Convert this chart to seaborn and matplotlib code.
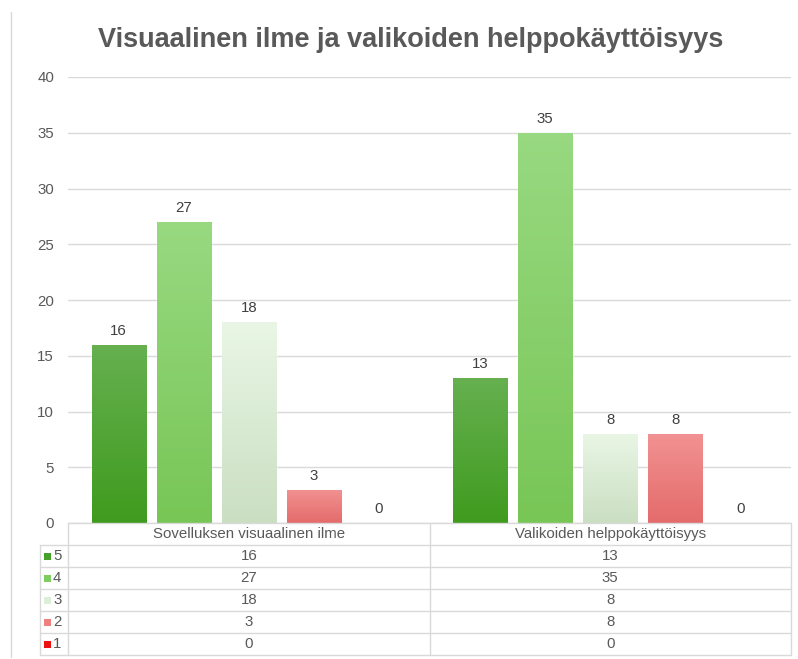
import numpy as np
import pandas as pd
import matplotlib
matplotlib.use('Agg')
import matplotlib.pyplot as plt
import seaborn as sns
from matplotlib.colors import LinearSegmentedColormap
from matplotlib.lines import Line2D
from matplotlib.patches import Rectangle
import matplotlib.patheffects as pe

# Data
categories = ['Sovelluksen visuaalinen ilme', 'Valikoiden helppokäyttöisyys']
ratings = ['5', '4', '3', '2', '1']
visual = [16, 27, 18, 3, 0]
menus = [13, 35, 8, 8, 0]

# colours: solid (legend) and gradient (top, bottom) per rating
solid = {'5': '#46a12a', '4': '#7fcc60', '3': '#dcefd6', '2': '#ee8080', '1': '#ee1111'}
grad = {'5': ('#66b050', '#3f9b1e'), '4': ('#98d981', '#78c656'),
        '3': ('#e9f6e5', '#cadfc2'), '2': ('#f29292', '#e46b6b'),
        '1': ('#ff3030', '#e00000')}

df = pd.DataFrame({'kategoria': np.repeat(categories, len(ratings)),
                   'arvosana': ratings * len(categories),
                   'maara': visual + menus})

sns.set_style('white')
plt.rcParams['font.family'] = ['Liberation Sans', 'DejaVu Sans']
fs = 10.8

W, H = 798, 659
fig = plt.figure(figsize=(W / 100, H / 100), dpi=100)
x0, x1, y0, y40 = 68, 791, 523, 77
ax = fig.add_axes([x0 / W, 1 - y0 / H, (x1 - x0) / W, (y0 - y40) / H])

sns.barplot(data=df, x='kategoria', y='maara', hue='arvosana',
            order=categories, hue_order=ratings, palette=solid,
            width=0.9, gap=0.17, saturation=1, legend=False, ax=ax)

# gradient fill and soft shadow on each bar
for cont, r in zip(ax.containers, ratings):
    cmap = LinearSegmentedColormap.from_list(r, [grad[r][1], grad[r][0]])
    for p in cont.patches:
        h = p.get_height()
        if h <= 0:
            continue
        p.set_path_effects([pe.SimplePatchShadow(offset=(0, -1), shadow_rgbFace='#808080', alpha=0.35),
                            pe.Normal()])
        im = ax.imshow(np.linspace(0, 1, 256).reshape(-1, 1), cmap=cmap, origin='lower',
                       extent=[p.get_x(), p.get_x() + p.get_width(), 0, h],
                       aspect='auto', zorder=p.get_zorder() + 0.1)
        im.set_clip_path(p)
    ax.bar_label(cont, padding=5, fontsize=fs, color='#404040')

ax.set_xlim(-0.5, len(categories) - 0.5)
ax.set_ylim(0, 40)
ax.set_yticks(range(0, 41, 5))
ax.set_xticks([])
ax.set_xlabel('')
ax.set_ylabel('')
ax.grid(axis='y', color='#d9d9d9', linewidth=1)
ax.set_axisbelow(True)
ax.tick_params(axis='y', length=0, pad=10, labelsize=fs, labelcolor='#595959')
for s in ax.spines.values():
    s.set_visible(False)

fig.text(411 / W, 1 - 40 / H, 'Visuaalinen ilme ja valikoiden helppokäyttöisyys',
         ha='center', va='center', fontsize=19.5, fontweight='bold', color='#595959')

# data table below the chart (pixel coordinates overlay)
tab = fig.add_axes([0, 0, 1, 1], facecolor='none')
tab.set_xlim(0, W)
tab.set_ylim(H, 0)
tab.axis('off')
lc = '#d9d9d9'
row_h = 22
leg_x = 40
mid = (x0 + x1) / 2
tab.add_line(Line2D([11, 11], [12, 657], color=lc, lw=1))
tab.add_line(Line2D([x0, x1], [y0, y0], color=lc, lw=1))
for i in range(1, len(ratings) + 2):
    y = y0 + i * row_h
    tab.add_line(Line2D([leg_x, x1], [y, y], color=lc, lw=1))
yb = y0 + (len(ratings) + 1) * row_h
tab.add_line(Line2D([leg_x, leg_x], [y0 + row_h, yb], color=lc, lw=1))
tab.add_line(Line2D([x0, x0], [y0, yb], color=lc, lw=1))
tab.add_line(Line2D([mid, mid], [y0, yb], color=lc, lw=1))
tab.add_line(Line2D([x1, x1], [y0, yb], color=lc, lw=1))

col_c = [(x0 + mid) / 2, (mid + x1) / 2]
for c, name in enumerate(categories):
    tab.text(col_c[c], y0 + row_h / 2, name, ha='center', va='center', fontsize=fs, color='#595959')
for i, r in enumerate(ratings):
    yc = y0 + (i + 1.5) * row_h
    tab.add_patch(Rectangle((44, yc - 3.5), 7, 7, facecolor=solid[r], edgecolor='none'))
    tab.text(53, yc, r, ha='left', va='center', fontsize=fs, color='#595959')
    for c, vals in enumerate([visual, menus]):
        tab.text(col_c[c], yc, str(vals[i]), ha='center', va='center', fontsize=fs, color='#595959')

fig.savefig('out.png', dpi=100)
